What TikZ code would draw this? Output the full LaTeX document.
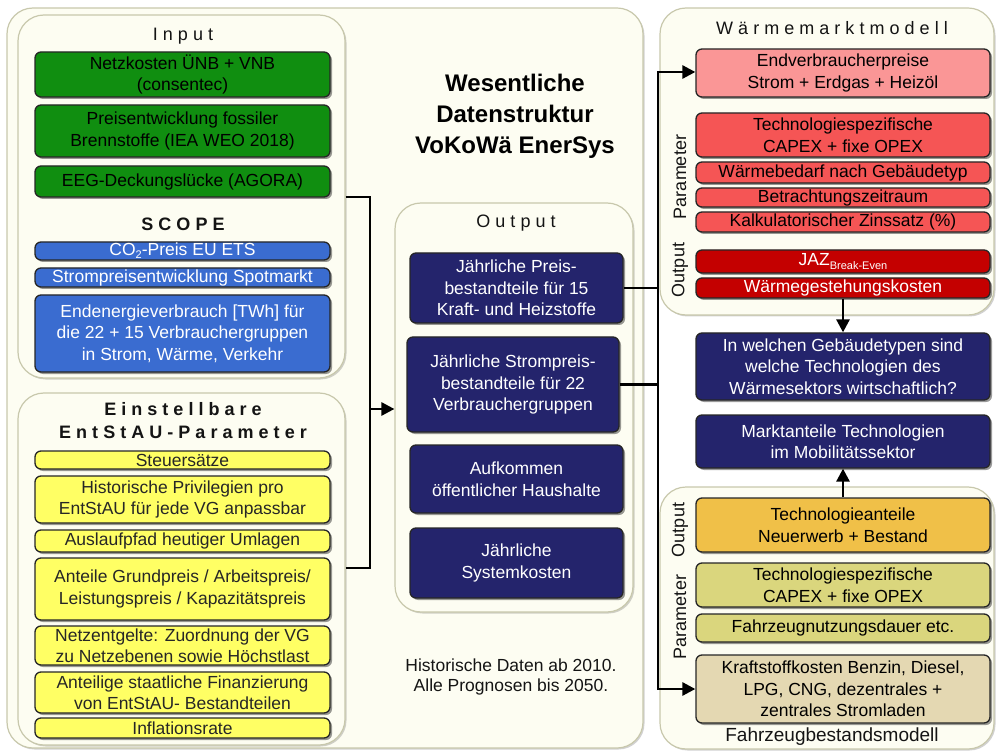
\documentclass[tikz,border=0pt]{standalone}
\usepackage{fontspec}
\setmainfont{Liberation Sans}
\newfontfamily\spaced[LetterSpace=28]{Liberation Sans}
\usetikzlibrary{shadows,arrows.meta}
\definecolor{gfill}{RGB}{16,142,16}
\definecolor{bfill}{RGB}{58,108,208}
\definecolor{yfill}{RGB}{255,255,100}
\definecolor{nfill}{RGB}{36,36,108}
\definecolor{pkfill}{RGB}{250,150,150}
\definecolor{rfill}{RGB}{245,85,85}
\definecolor{drfill}{RGB}{196,0,0}
\definecolor{ofill}{RGB}{240,192,72}
\definecolor{olfill}{RGB}{218,214,125}
\definecolor{befill}{RGB}{228,216,178}
\definecolor{panfill}{RGB}{253,253,242}
\definecolor{pandraw}{RGB}{200,200,172}
\definecolor{ttlcol}{RGB}{20,20,20}
\newcommand{\bt}{\fontsize{17.5}{21.5}\selectfont}
\newcommand{\mkbox}[7]{\node[#1, minimum width={#5pt-#3pt}, minimum height={#6pt-#4pt}] (#2) at ({(#3+#5)/2},{(#4+#6)/2}) {#7};}
\tikzset{
  panel/.style={draw=pandraw, fill=panfill, line width=1.2pt, rounded corners=26pt, inner sep=0pt,
    drop shadow={shadow xshift=1.5pt, shadow yshift=-1.5pt, opacity=0.18, fill=black}},
  box/.style={draw=black!85, line width=1.3pt, rounded corners=6pt, align=center, inner sep=0pt,
    font=\bt, drop shadow={shadow xshift=2pt, shadow yshift=-2pt, opacity=0.4, fill=black}},
  gbox/.style={box, fill=gfill, text=black},
  bbox/.style={box, fill=bfill, text=white},
  ybox/.style={box, fill=yfill, text=black!85},
  nbox/.style={box, fill=nfill, text=white},
  pkbox/.style={box, fill=pkfill, text=black},
  rbox/.style={box, fill=rfill, text=black},
  drbox/.style={box, fill=drfill, text=white},
  obox/.style={box, fill=ofill, text=black},
  olbox/.style={box, fill=olfill, text=black},
  bebox/.style={box, fill=befill, text=black},
  ttl/.style={text=ttlcol, font=\spaced\fontsize{18}{23}\selectfont, align=center, inner sep=0pt},
  bttl/.style={ttl, font=\spaced\bfseries\fontsize{18}{23}\selectfont},
  side/.style={rotate=90, text=ttlcol, font=\fontsize{18}{20}\selectfont, inner sep=0pt},
  conn/.style={line width=2.8pt, black, line join=miter},
  arr/.style={conn, -{Triangle[length=13pt,width=13pt]}}
}
\begin{document}
\begin{tikzpicture}[x=1pt, y=-1pt]
\useasboundingbox (0,0) rectangle (996,751);
% panels
\mkbox{panel}{outer}{7}{8}{643}{748}{}
\mkbox{panel}{pin}{18}{15}{345}{378}{}
\mkbox{panel}{pein}{18}{393}{345}{745}{}
\mkbox{panel}{pout}{395}{203}{633}{612}{}
\mkbox{panel}{pw}{660}{8}{994}{315}{}
\mkbox{panel}{pf}{660}{487}{994}{749}{}
% titles
\node[ttl] (tin) at (183,36) {Input};
\node[bttl] (tsc) at (183,224) {SCOPE};
\node[bttl] (tein) at (183,421) {Einstellbare\\EntStAU-Parameter};
\node[ttl] (tout) at (516,223) {Output};
\node[ttl] (tw) at (832,28) {Wärmemarktmodell};
\node[align=center, font=\bfseries\fontsize{24}{31}\selectfont, inner sep=0pt] (main) at (515,116) {Wesentliche\\Datenstruktur\\VoKoWä EnerSys};
\node[align=center, text=ttlcol, font=\fontsize{17.5}{20.5}\selectfont, inner sep=0pt] (foot) at (511,677) {Historische Daten ab 2010.\\Alle Prognosen bis 2050.};
\node[text=ttlcol, font=\fontsize{19}{20}\selectfont, inner sep=0pt] (tf) at (832,737) {Fahrzeugbestandsmodell};
\node[side] (lp1) at (680,177) {Parameter};
\node[side] (lo1) at (680,270) {Output};
\node[side] (lo2) at (680,530) {Output};
\node[side] (lp2) at (680,617) {Parameter};
% connectors
\coordinate (ja) at (pin.east |- 0,197);
\coordinate (jb) at (pein.east |- 0,568);
\coordinate (jx) at (370,409);
\coordinate (rt) at (658,72);
\coordinate (rb) at (658,689);
\draw[conn] (ja) -| (jx);
\draw[conn] (jb) -| (jx);
\draw[arr] (jx) -- (jx -| pout.west);
% input boxes
\mkbox{gbox}{netz}{35}{52}{330}{97}{Netzkosten ÜNB + VNB\\(consentec)}
\mkbox{gbox}{fos}{35}{105}{330}{157}{Preisentwicklung fossiler\\Brennstoffe (IEA WEO 2018)}
\mkbox{gbox}{eeg}{35}{166}{330}{197}{EEG-Deckungslücke (AGORA)}
\mkbox{bbox}{co2}{35}{242}{330}{260}{CO\raisebox{-3pt}{\fontsize{11}{11}\selectfont 2}-Preis EU ETS}
\mkbox{bbox}{spot}{35}{268}{330}{287}{Strompreisentwicklung Spotmarkt}
\mkbox{bbox}{ende}{35}{295}{330}{372}{Endenergieverbrauch [TWh] für\\die 22 + 15 Verbrauchergruppen\\in Strom, Wärme, Verkehr}
% parameter boxes
\mkbox{ybox}{steuer}{35}{451}{330}{469}{Steuersätze}
\mkbox{ybox}{hist}{35}{476}{330}{523}{Historische Privilegien pro\\EntStAU für jede VG anpassbar}
\mkbox{ybox}{ausl}{35}{530}{330}{552}{Auslaufpfad heutiger Umlagen}
\mkbox{ybox}{ant}{35}{558}{330}{620}{Anteile Grundpreis / Arbeitspreis/\\Leistungspreis / Kapazitätspreis}
\mkbox{ybox}{nentg}{35}{626}{330}{665}{Netzentgelte: Zuordnung der VG\\zu Netzebenen sowie Höchstlast}
\mkbox{ybox}{staat}{35}{672}{330}{713}{Anteilige staatliche Finanzierung\\von EntStAU- Bestandteilen}
\mkbox{ybox}{infl}{35}{718}{330}{738}{Inflationsrate}
% output boxes
\mkbox{nbox}{preis}{410}{253}{623}{323}{Jährliche Preis-\\bestandteile für 15\\Kraft- und Heizstoffe}
\mkbox{nbox}{strom}{407}{337}{619}{432}{Jährliche Strompreis-\\bestandteile für 22\\Verbrauchergruppen}
\mkbox{nbox}{aufk}{410}{445}{623}{513}{Aufkommen\\öffentlicher Haushalte}
\mkbox{nbox}{sysk}{410}{528}{623}{598}{Jährliche\\Systemkosten}
% right side boxes
\mkbox{pkbox}{endv}{696}{49}{990}{97}{Endverbraucherpreise\\Strom + Erdgas + Heizöl}
\mkbox{rbox}{tech1}{696}{113}{990}{157}{Technologiespezifische\\CAPEX + fixe OPEX}
\mkbox{rbox}{wbed}{696}{162}{990}{183}{Wärmebedarf nach Gebäudetyp}
\mkbox{rbox}{betr}{696}{188}{990}{207}{Betrachtungszeitraum}
\mkbox{rbox}{kalk}{696}{212}{990}{232}{Kalkulatorischer Zinssatz (\%)}
\mkbox{drbox}{jaz}{696}{250}{990}{273}{JAZ\raisebox{-4pt}{\fontsize{11}{11}\selectfont Break-Even}}
\mkbox{drbox}{wg}{696}{278}{990}{298}{Wärmegestehungskosten}
\mkbox{nbox}{frage}{696}{333}{990}{400}{In welchen Gebäudetypen sind\\welche Technologien des\\Wärmesektors wirtschaftlich?}
\mkbox{nbox}{markt}{696}{415}{990}{468}{Marktanteile Technologien\\im Mobilitätssektor}
\mkbox{obox}{tant}{696}{498}{990}{552}{Technologieanteile\\Neuerwerb + Bestand}
\mkbox{olbox}{tech2}{696}{563}{990}{607}{Technologiespezifische\\CAPEX + fixe OPEX}
\mkbox{olbox}{fnd}{696}{614}{990}{642}{Fahrzeugnutzungsdauer etc.}
\mkbox{bebox}{kraft}{696}{655}{990}{723}{Kraftstoffkosten Benzin, Diesel,\\LPG, CNG, dezentrales +\\zentrales Stromladen}
% right connectors
\draw[conn] (preis.east) -- (preis.east -| rt);
\draw[conn] (strom.east) -- (strom.east -| rt);
\draw[arr] (strom.east -| rt) -- (rt) -- (endv.west |- rt);
\draw[arr] (preis.east -| rt) -- (rb) -- (kraft.west |- rb);
\draw[arr] (wg.south) -- (frage.north);
\draw[arr] (tant.north) -- (markt.south);
\end{tikzpicture}
\end{document}
